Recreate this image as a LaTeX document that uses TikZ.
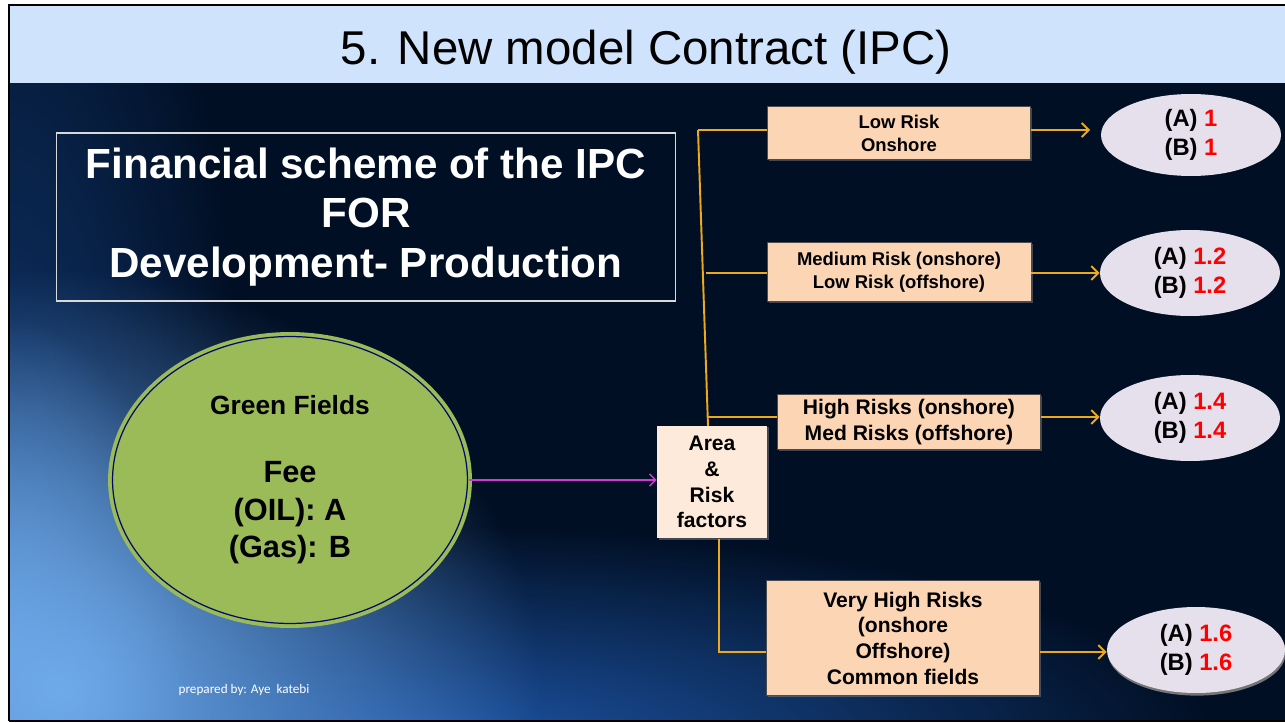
\documentclass[tikz,border=0pt]{standalone}
\usepackage{fontspec}
\setmainfont{Liberation Sans}
\newfontfamily\notas{Carlito}
\usetikzlibrary{shapes.geometric,shadows,fadings,arrows.meta}
\definecolor{fondo}{HTML}{010F24}
\definecolor{banda}{HTML}{D0E3FC}
\definecolor{durazno}{HTML}{FCD5B4}
\definecolor{crema}{HTML}{FDEADA}
\definecolor{lila}{HTML}{E6E0EC}
\definecolor{verde}{HTML}{9BBB59}
\definecolor{naranja}{HTML}{EDA81C}
\definecolor{rosa}{HTML}{D03AD0}
\definecolor{azulclaro}{HTML}{6FAAEA}
\definecolor{azulmedio}{HTML}{1E56A8}
\definecolor{rojo}{HTML}{FF0000}
\tikzfading[name=desvanecer, inner color=transparent!0, outer color=transparent!100]

\begin{document}
\begin{tikzpicture}[x=0.02cm, y=-0.02cm,
    caja/.style={draw=black!70, fill=durazno, inner sep=0pt, align=center,
      drop shadow={shadow xshift=1pt, shadow yshift=-1pt, opacity=0.5}},
    valor/.style={ellipse, fill=lila, minimum width=3.6cm, minimum height=1.72cm,
      inner sep=0pt, align=center, font=\fontsize{13.5}{16.4}\selectfont\bfseries},
    linea/.style={draw=naranja, line width=1.1pt},
    flecha/.style={linea, -{Straight Barb[length=4pt,width=8pt]}},
    brillo/.style={path fading=desvanecer}]
	\useasboundingbox (0,0) rectangle (1285,723);

	% Dibujar el fondo
	\fill[white] (0,0) rectangle (1285,723);
	\fill[fondo] (9,83) rectangle (1285,721);
	\begin{scope}
	  \clip (9,83) rectangle (1285,721);
	  \fill[azulmedio, brillo, opacity=0.55] (9,560) ellipse (240 and 820);
	  \fill[azulmedio, brillo] (420,745) ellipse (800 and 220);
	  \fill[azulclaro, brillo] (60,690) ellipse (480 and 420);
	  \fill[azulclaro, brillo, opacity=0.7] (9,640) ellipse (180 and 320);
	\end{scope}
	\fill[banda] (9,5) rectangle (1285,83);
	\draw[black, line width=1.2pt] (9,721) -- (9,5) -- (1285,5);
	\draw[black, line width=1pt] (9,721) -- (1285,721);

	% Dibujar el titulo
	\node (titulo) at (646,52) {\fontsize{27}{32}\selectfont 5. New model Contract (IPC)};

	% Dibujar el recuadro
	\node[draw=white!85!black, line width=0.6pt, minimum width=12.4cm, minimum height=3.36cm,
	  align=center, text=white, font=\fontsize{24}{28.4}\selectfont\bfseries] (esquema) at (366,217)
	  {Financial scheme of the IPC\\FOR\\Development- Production};

	% Dibujar la elipse verde
	\node[ellipse, fill=verde, draw=verde, double=fondo!70!blue, double distance=0.7pt, line width=2.2pt,
	  minimum width=7.1cm, minimum height=5.74cm, inner sep=0pt, align=center,
	  font=\fontsize{17.5}{21.5}\selectfont\bfseries] (campos) at (290,480)
	  {{\fontsize{15}{18}\selectfont Green Fields}\\[17pt]Fee\\(OIL): A\\(Gas): B};

	% Dibujar las cajas de riesgo
	\node[caja, minimum width=5.26cm, minimum height=1.06cm, font=\fontsize{10.5}{13}\selectfont\bfseries]
	  (bajo) at (899,133) {Low Risk\\Onshore};
	\node[caja, minimum width=5.28cm, minimum height=1.18cm, font=\fontsize{10.5}{13}\selectfont\bfseries]
	  (medio) at (899,272) {Medium Risk (onshore)\\Low Risk (offshore)};
	\node[caja, minimum width=5.26cm, minimum height=1.1cm, font=\fontsize{12}{14.7}\selectfont\bfseries]
	  (alto) at (909,422) {High Risks (onshore)\\Med Risks (offshore)};
	\node[caja, minimum width=5.46cm, minimum height=2.3cm, font=\fontsize{12}{14.6}\selectfont\bfseries]
	  (muyalto) at (903,638) {Very High Risks\\(onshore\\Offshore)\\Common fields};
	\node[caja, fill=crema, draw=none, minimum width=2.2cm, minimum height=2.26cm,
	  font=\fontsize{12}{14.7}\selectfont\bfseries] (area) at (712,482) {Area\\\&\\Risk\\factors};

	% Dibujar las elipses de valores
	\node[valor, minimum height=1.64cm] (va) at (1191,135) {(A) \textcolor{rojo}{1}\\(B) \textcolor{rojo}{1}};
	\node[valor] (vb) at (1190,273) {(A) \textcolor{rojo}{1.2}\\(B) \textcolor{rojo}{1.2}};
	\node[valor] (vc) at (1190,418) {(A) \textcolor{rojo}{1.4}\\(B) \textcolor{rojo}{1.4}};
	\node[valor, minimum width=3.56cm, drop shadow={shadow xshift=0.5pt, shadow yshift=-1.5pt, fill=gray, opacity=0.9}]
	  (vd) at (1196,650) {(A) \textcolor{rojo}{1.6}\\(B) \textcolor{rojo}{1.6}};

	% Dibujar las conexiones
	\coordinate (t1) at (698,130);
	\coordinate (t2) at (706,273);
	\coordinate (t3) at (708,417);
	\coordinate (t4) at (708,426);
	\coordinate (b1) at (719,539);
	\coordinate (b2) at (719,652);
	\draw[linea] (t1) -- (t4);
	\draw[linea] (t1) -- (t1 -| bajo.west);
	\draw[linea] (t2) -- (t2 -| medio.west);
	\draw[linea] (t3) -- (t3 -| alto.west);
	\draw[linea] (b1) -- (b2) -- (b2 -| muyalto.west);
	\draw[flecha, shorten >=6pt] (bajo.east |- t1) -- (t1 -| va.west);
	\draw[flecha] (medio.east |- vb.west) -- (vb.west);
	\draw[flecha] (alto.east |- t3) -- (t3 -| vc.west);
	\draw[flecha] (muyalto.east |- b2) -- (b2 -| vd.west);
	\draw[rosa, line width=0.8pt, -{Straight Barb[length=3.5pt,width=7pt]}] (campos.east) -- (area.west |- campos.east);

	% Dibujar el autor
	\node[text=white, font=\notas\fontsize{7.5}{9}\selectfont] (autor) at (244,690) {prepared by: Aye\ \ katebi};

\end{tikzpicture}
\end{document}
